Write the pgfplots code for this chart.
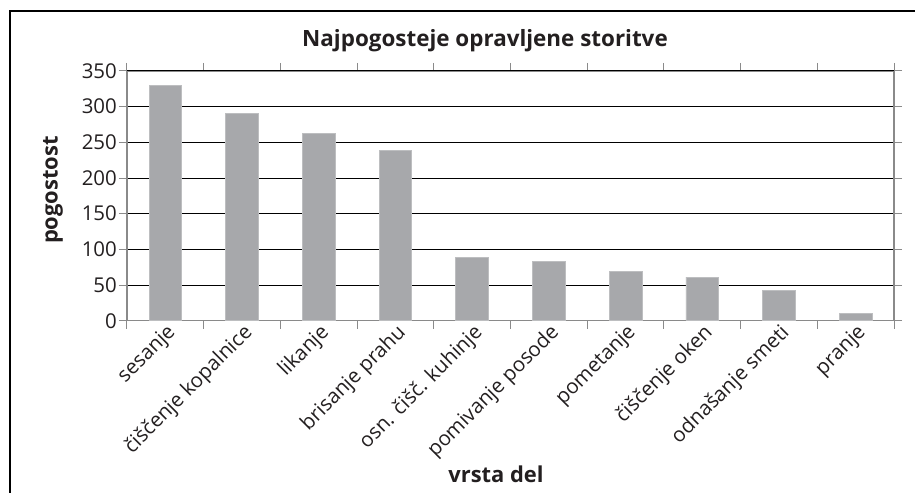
\documentclass[border=0pt]{standalone}
\usepackage{fontspec}
\setmainfont{Open Sans}
\usepackage{pgfplots}
\pgfplotsset{compat=1.18}
\definecolor{barfill}{HTML}{A7A8AB}
\definecolor{baredge}{HTML}{BDBEC0}
\definecolor{axgray}{HTML}{8A8A8A}
\definecolor{txt}{HTML}{231F20}
\begin{document}
\begin{tikzpicture}[x=1bp,y=1bp]
\useasboundingbox (-127,-172.3) rectangle (788,320.7);
\draw[line width=1.3bp, black] (-117,-180) -- (-117,309.7) -- (795,309.7);
\begin{axis}[
  at={(0,0)}, anchor=south west,
  scale only axis, width=767bp, height=249.7bp,
  xmin=-0.5, xmax=9.5, ymin=0, ymax=350,
  ytick={0,50,...,350},
  xtick={-0.5,0.5,...,9.5},
  xticklabels={},
  extra x ticks={0,1,2,3,4,5,6,7,8,9},
  extra x tick labels={sesanje,čiščenje kopalnice,likanje,brisanje prahu,osn. čišč. kuhinje,pomivanje posode,pometanje,čiščenje oken,odnašanje smeti,pranje},
  extra x tick style={major tick length=0pt, grid=none},
  xmajorgrids=false,
  ymajorgrids,
  major grid style={black, line width=1bp},
  tick align=outside,
  major tick length=8bp,
  tick style={axgray, line width=1bp},
  axis line style={axgray, line width=1.3bp},
  /pgf/number format/assume math mode=true,
  y tick label style={font=\fontsize{20.5}{20.5}\selectfont, text=txt, inner sep=2bp},
  x tick label style={font=\fontsize{20.5}{20.5}\selectfont, text=txt, rotate=45, anchor=north east, inner sep=1bp},
  ybar, bar width=32.7bp,
]
\addplot[fill=barfill, draw=baredge, line width=0.8bp] coordinates {
  (0,330) (1,291) (2,263) (3,238) (4,89) (5,83) (6,69) (7,61) (8,42) (9,10)
};
\draw[black, line width=1bp] (rel axis cs:0,1) -- (rel axis cs:1,1);
\end{axis}
\node[anchor=base, text=txt, font=\bfseries\fontsize{22.5}{22.5}\selectfont] at (358,273.7) {Najpogosteje opravljene storitve};
\node[anchor=center, rotate=90, text=txt, font=\bfseries\fontsize{22}{22}\selectfont] at (-74,130.7) {pogostost};
\node[anchor=base, text=txt, font=\bfseries\fontsize{22}{22}\selectfont] at (369,-162.3) {vrsta del};
\end{tikzpicture}
\end{document}
